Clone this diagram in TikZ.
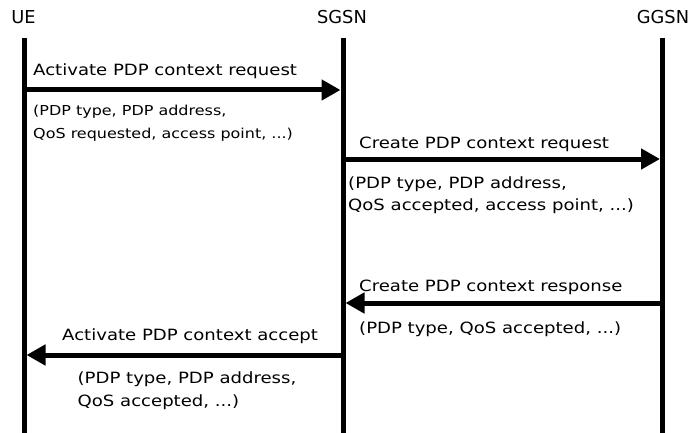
\documentclass[tikz,border=0pt]{standalone}
\usepackage{fontspec}
\setmainfont{DejaVu Sans}
\newfontfamily\widefont[FakeStretch=1.166]{DejaVu Sans}
\usetikzlibrary{arrows.meta}
\begin{document}
\begin{tikzpicture}[x=1pt,y=-1pt,
  head/.style={font=\fontsize{17.8}{20}\selectfont, anchor=base, inner sep=0pt},
  msglabel/.style={font=\widefont\fontsize{15.5}{18}\selectfont, anchor=base west, inner sep=0pt},
  param/.style={font=\widefont\fontsize{15.5}{18}\selectfont, anchor=base west, inner sep=0pt},
  smallparam/.style={font=\widefont\fontsize{13.7}{16}\selectfont, anchor=base west, inner sep=0pt},
  lifeline/.style={line width=5pt},
  msg/.style={line width=5pt, -{Triangle[length=19pt,width=20pt]}}]
\useasboundingbox (0,0) rectangle (693,433);
% actors
\node[head] (ue)   at (23.5,24) {UE};
\node[head] (sgsn) at (342,24) {SGSN};
\node[head] (ggsn) at (663,24) {GGSN};
% lifelines
\coordinate (ueTop) at (24,38);   \coordinate (ueBot) at (24,433);
\coordinate (sgTop) at (343,38);  \coordinate (sgBot) at (343,433);
\coordinate (ggTop) at (662.5,38);\coordinate (ggBot) at (662.5,433);
\draw[lifeline] (ueTop) -- (ueBot);
\draw[lifeline] (sgTop) -- (sgBot);
\draw[lifeline] (ggTop) -- (ggBot);
% message end points on the lifelines
\coordinate (ue1) at (24,90);    \coordinate (sg1) at (340.5,90);
\coordinate (sg2) at (343,159);  \coordinate (gg2) at (660,159);
\coordinate (gg3) at (662.5,303);\coordinate (sg3) at (345.5,303);
\coordinate (sg4) at (343,355);  \coordinate (ue4) at (26.5,355);
% messages
\draw[msg] (ue1) -- (sg1);
\draw[msg] (sg2) -- (gg2);
\draw[msg] (gg3) -- (sg3);
\draw[msg] (sg4) -- (ue4);
% labels
\node[msglabel] (m1) at (33,76)   {Activate PDP context request};
\node[smallparam] (p1a) at (33,116) {(PDP type, PDP address,};
\node[smallparam] (p1b) at (33,139) {QoS requested, access point, ...)};
\node[msglabel] (m2) at (359,148) {Create PDP context request};
\node[param] (p2a) at (348,188)   {(PDP type, PDP address,};
\node[param] (p2b) at (348,210)   {QoS accepted, access point, ...)};
\node[msglabel] (m3) at (359,291) {Create PDP context response};
\node[param] (p3a) at (359,333)   {(PDP type, QoS accepted, ...)};
\node[msglabel] (m4) at (62,340)  {Activate PDP context accept};
\node[param] (p4a) at (77.5,383)  {(PDP type, PDP address,};
\node[param] (p4b) at (77.5,406)  {QoS accepted, ...)};
\end{tikzpicture}
\end{document}
